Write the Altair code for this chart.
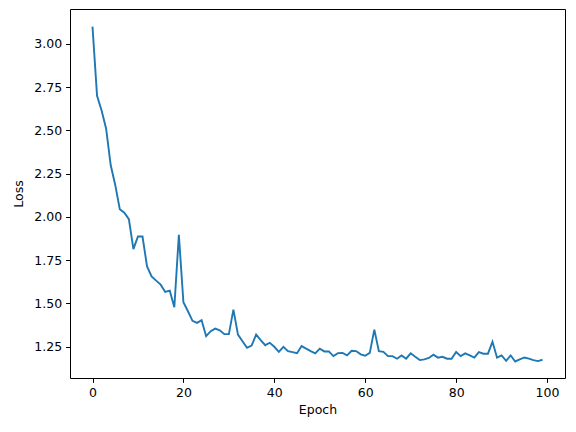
import altair as alt
import pandas as pd

epochs = list(range(100))
loss = [
    3.10, 2.70, 2.615, 2.51, 2.30, 2.185, 2.045, 2.025, 1.987, 1.814,
    1.887, 1.887, 1.714, 1.657, 1.632, 1.609, 1.567, 1.574, 1.478, 1.897,
    1.507, 1.455, 1.400, 1.388, 1.403, 1.311, 1.340, 1.355, 1.345, 1.323,
    1.323, 1.465, 1.320, 1.282, 1.244, 1.257, 1.320, 1.288, 1.259, 1.273,
    1.250, 1.221, 1.250, 1.225, 1.219, 1.213, 1.254, 1.239, 1.225, 1.212,
    1.239, 1.223, 1.223, 1.196, 1.213, 1.214, 1.200, 1.227, 1.225, 1.206,
    1.198, 1.215, 1.349, 1.225, 1.221, 1.196, 1.196, 1.181, 1.200, 1.181,
    1.212, 1.192, 1.173, 1.177, 1.185, 1.204, 1.187, 1.192, 1.181, 1.181,
    1.220, 1.196, 1.212, 1.200, 1.187, 1.219, 1.210, 1.210, 1.279, 1.187,
    1.200, 1.169, 1.200, 1.165, 1.177, 1.188, 1.181, 1.173, 1.167, 1.175,
]
x_ticks = [0, 20, 40, 60, 80, 100]
y_ticks = [1.25, 1.50, 1.75, 2.00, 2.25, 2.50, 2.75, 3.00]

df = pd.DataFrame({"Epoch": epochs, "Loss": loss})

font = "DejaVu Sans"
axis_common = dict(
    grid=False,
    domain=False,
    ticks=True,
    tickSize=4.4,
    tickColor="black",
    tickWidth=1,
    labelFont=font,
    labelFontSize=12.5,
    labelColor="black",
    labelPadding=4,
    titleFont=font,
    titleFontSize=12.5,
    titleFontWeight="normal",
    titleColor="black",
)

chart = (
    alt.Chart(df)
    .mark_line(color="#1f77b4", strokeWidth=1.9, clip=True)
    .encode(
        x=alt.X(
            "Epoch:Q",
            scale=alt.Scale(domain=[-4.95, 103.95], nice=False, zero=False),
            axis=alt.Axis(values=x_ticks, format="d", titlePadding=5, **axis_common),
        ),
        y=alt.Y(
            "Loss:Q",
            scale=alt.Scale(domain=[1.0695, 3.2015], nice=False, zero=False),
            axis=alt.Axis(values=y_ticks, format=".2f", titlePadding=8, **axis_common),
        ),
    )
    .properties(
        width=495,
        height=369,
        background="white",
        autosize=alt.AutoSizeParams(type="none"),
        padding={"left": 62, "top": 1, "right": 3, "bottom": 46},
    )
    .configure_view(stroke="black", strokeWidth=1)
)

chart.save("out.html", embed_options={"renderer": "svg", "actions": False})
